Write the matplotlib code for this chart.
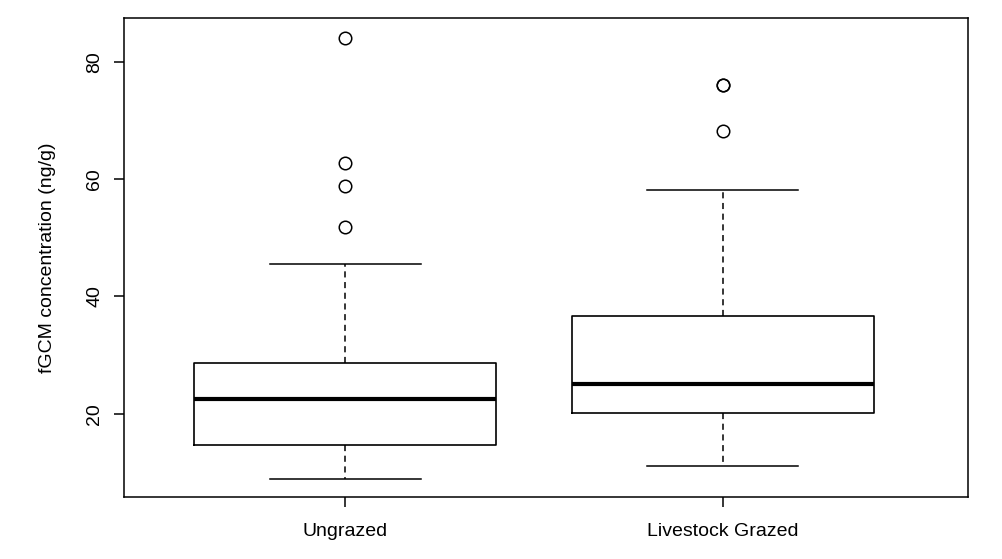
import matplotlib
matplotlib.use("Agg")
import matplotlib.pyplot as plt

plt.rcParams['font.family'] = ['Liberation Sans', 'DejaVu Sans']

groups = ["Ungrazed", "Livestock Grazed"]
whislo = [8.9, 11.1]
q1 = [14.7, 20.2]
med = [22.6, 25.1]
q3 = [28.7, 36.6]
whishi = [45.6, 58.1]
fliers = [[51.8, 58.8, 62.7, 84.1], [68.2, 76.1, 76.1]]

stats = [dict(label=g, whislo=a, q1=b, med=c, q3=d, whishi=e, fliers=f)
         for g, a, b, c, d, e, f in zip(groups, whislo, q1, med, q3, whishi, fliers)]

fig = plt.figure(figsize=(10.02, 5.59), dpi=100)
ax = fig.add_axes([124/1002, 62/559, 844/1002, 479/559])
ax.bxp(stats, positions=[1, 2], widths=0.8,
       boxprops=dict(color='black', linewidth=1.2),
       medianprops=dict(color='black', linewidth=3),
       whiskerprops=dict(color='black', linewidth=1.1, linestyle=(0, (4, 3))),
       capprops=dict(color='black', linewidth=1.1),
       capwidths=0.4,
       flierprops=dict(marker='o', markerfacecolor='none', markeredgecolor='black',
                       markersize=9, markeredgewidth=1.1))
ax.set_xlim(0.414, 2.65)
ax.set_ylim(5.8, 87.5)
ax.set_yticks([20, 40, 60, 80])
ax.set_yticklabels(['20', '40', '60', '80'], rotation=90, va='center')
ax.set_xticks([1, 2])
ax.set_xticklabels(groups)
ax.tick_params(labelsize=14, length=7, width=1.1)
ax.tick_params(axis='x', pad=12)
ax.tick_params(axis='y', pad=8)
ax.set_ylabel("fGCM concentration (ng/g)", fontsize=14, labelpad=22)
for s in ax.spines.values():
    s.set_linewidth(1.1)
fig.savefig("out.png", dpi=100)
